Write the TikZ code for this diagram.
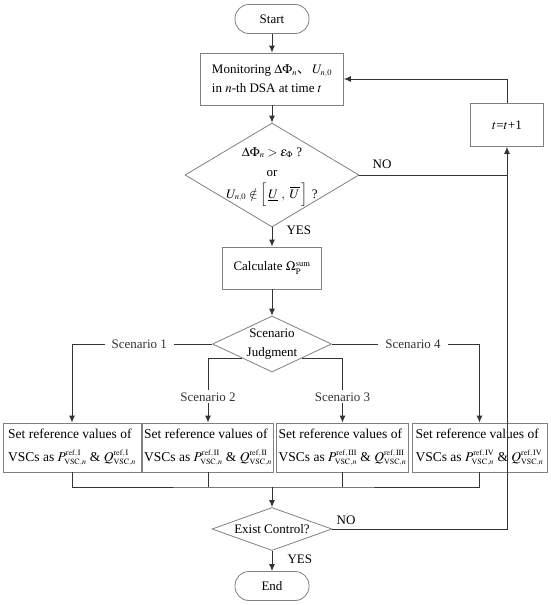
\documentclass[tikz,border=0pt]{standalone}
\usepackage{mathptmx}
\usepackage{fontspec}
\setmainfont{Liberation Serif}
\newfontfamily\cjk{Noto Sans CJK SC}
\usetikzlibrary{shapes.geometric,arrows.meta}
\DeclareMathSizes{13}{13}{8.5}{7}
\DeclareMathSizes{13.5}{13.5}{8}{6.5}
\newcommand{\vscref}[2]{$#1^{\mathrm{ref,\,#2}}_{\mathrm{VSC},n}$}

\begin{document}
\begin{tikzpicture}[
x=1pt,y=-1pt,
>={Latex[length=7pt,width=6pt]},
every node/.style={font=\fontsize{13}{16}\selectfont},
box/.style={
  rectangle,
  draw=black!50,
  line width=0.8pt,
  inner sep=2pt
},
term/.style={box,rounded corners=14pt,minimum width=74pt,minimum height=29pt},
decide/.style={diamond,draw=black!50,line width=0.8pt,inner sep=0pt},
setbox/.style={box,minimum height=49pt,align=left,font=\fontsize{13.5}{23}\selectfont},
line/.style={black!80,line width=0.9pt},
note/.style={fill=white,inner xsep=7pt,inner ysep=2pt}
]
\useasboundingbox (0,0) rectangle (550,605);

\node (start) at (272,19) [term] {Start};
\node (mon) at (272,79) [box,minimum width=143pt,minimum height=52pt,align=left,font=\fontsize{13}{19}\selectfont]
  {Monitoring $\Delta\Phi_n${\cjk 、}\,$U_{n,0}$\\in $n$-th DSA at time $t$};

\node (dec) at (272,175) [decide,minimum width=174pt,minimum height=104pt] {};
\node (decT) at (272,177) [align=center,font=\fontsize{13}{20}\selectfont]
  {$\Delta\Phi_n>\varepsilon_\Phi$ ?\\or\\[2pt]$U_{n,0}\notin\Big[\,\underline{U}\ ,\ \overline{U}\,\Big]_{\,}$ ?};
\node (no1) at (382,164) {NO};
\node (inc) at (507,125) [box,minimum width=73pt,minimum height=43pt] {$t$=$t$+1};
\node (yes1) at (283,230) [anchor=west] {YES};

\node (calc) at (272,268) [box,minimum width=99pt,minimum height=42pt] {Calculate $\Omega_{\mathrm{P}}^{\mathrm{sum}}$};

\node (judge) at (272,344) [decide,minimum width=119pt,minimum height=56pt] {};
\node (judgeT) at (judge) [align=center,font=\fontsize{13}{19}\selectfont] {Scenario\\Judgment};

\node (s1) at (72,447.5) [setbox,minimum width=138pt]
  {Set reference values of\\VSCs as \vscref{P}{I} \& \vscref{Q}{I}};
\node (s2) at (208,447.5) [setbox,minimum width=130pt]
  {Set reference values of\\VSCs as \vscref{P}{II} \& \vscref{Q}{II}};
\node (s3) at (342.5,447.5) [setbox,minimum width=131pt]
  {Set reference values of\\VSCs as \vscref{P}{III} \& \vscref{Q}{III}};
\node (s4) at (479.5,447.5) [setbox,minimum width=135pt]
  {Set reference values of\\VSCs as \vscref{P}{IV} \& \vscref{Q}{IV}};

\coordinate (bus) at (272,487);

\node (exist) at (272,529) [decide,minimum width=120pt,minimum height=43pt] {};
\node (existT) at (exist) {Exist Control?};
\node (no2) at (346,520) {NO};
\node (yes2) at (284,559) [anchor=west] {YES};
\node (stop) at (272,586) [term] {End};

% main flow
\draw [->,line] (start) -- (mon);
\draw [->,line] (mon) -- (dec);
\draw [->,line] (dec) -- (calc);
\draw [->,line] (calc) -- (judge);

% loop back
\draw [line] (dec.east) -- (dec.east -| inc);
\draw [->,line] (exist.east) -| (inc.south);
\draw [->,line] (inc.north) |- (mon.east);

% scenarios
\draw [->,line] (judge.west) -| node [note,pos=0.26] {Scenario 1} (s1.north);
\draw [->,line] (judge.south west) -| node [note,pos=0.8] {Scenario 2} (s2.north);
\draw [->,line] (judge.south east) -| node [note,pos=0.8] {Scenario 3} (s3.north);
\draw [->,line] (judge.east) -| node [note,pos=0.275] {Scenario 4} (s4.north);

\draw [line] (s1.south) |- (bus) -| (s4.south);
\draw [line] (s2.south) -- (s2.south |- bus);
\draw [line] (s3.south) -- (s3.south |- bus);
\draw [->,line] (bus) -- (exist.north);
\draw [->,line] (exist) -- (stop);

\end{tikzpicture}
\end{document}
